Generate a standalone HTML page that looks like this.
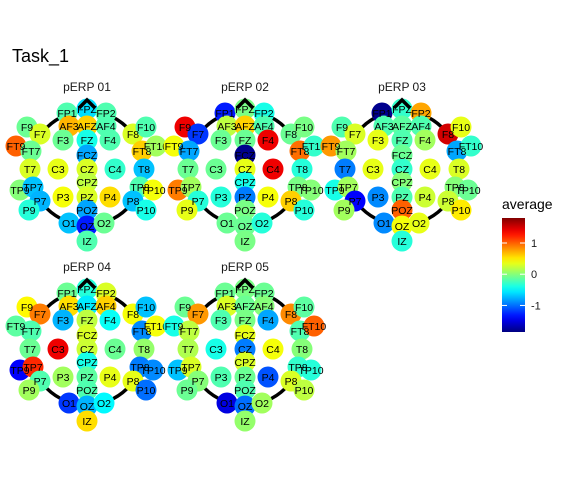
<!DOCTYPE html>
<html><head><meta charset="utf-8"><style>
body{margin:0;background:#fff;}
svg{display:block;font-family:"Liberation Sans",sans-serif;}
</style></head><body>
<svg id="chart" width="576" height="480" viewBox="0 0 576 480">
<rect width="576" height="480" fill="#fff"/>
<text x="12" y="62" font-size="18" fill="#000">Task_1</text>
<g id="panels"></g>
<g id="legend">
<text x="502" y="209" font-size="14" fill="#000">average</text>
<defs><linearGradient id="jetg" x1="0" y1="1" x2="0" y2="0"></linearGradient></defs>
<rect id="lbar" x="502" y="218" width="23" height="114" fill="url(#jetg)"/>
<g id="lticks"></g>
</g>
</svg>
<script>
const electrodes=["FP1","FPZ","FP2","AF3","AFZ","AF4","F9","F7","F3","FZ","F4","F8","F10","FT9","FT7","FCZ","FT8","FT10","T7","C3","CZ","C4","T8","TP9","TP7","CPZ","TP8","TP10","P3","PZ","P4","P7","P8","P9","P10","POZ","O1","OZ","O2","IZ"];
const panelTitles=["pERP 01","pERP 02","pERP 03","pERP 04","pERP 05"];
const p1=[-0.2,-0.6,-0.2,0.7,0.6,-0.2,-0.1,0.3,-0.1,-0.4,-0.2,0.3,-0.2,1.0,-0.1,-0.8,0.6,0.1,0.3,0.35,0.3,-0.3,-0.7,0,-0.7,0.2,-0.2,0.4,0.4,0.3,0.55,-0.75,-0.7,-0.35,-0.4,-0.8,-0.7,-1.3,-0.1,-0.2];
const p2=[-1.3,-0.05,-0.4,0.2,0.6,-0.2,1.4,-1.2,-0.1,-0.1,1.4,-0.1,-0.05,0.4,-0.8,-1.8,0.95,-0.3,-0.1,-0.1,0.35,1.4,-0.35,0.9,0.1,-0.4,-0.05,0,-0.35,-0.95,0.4,-0.35,0.6,0.35,-0.35,-0.05,-0.1,-0.1,-0.35,-0.05];
const p3=[-1.8,-0.3,0.75,-0.2,-0.15,-0.2,-0.2,0.3,0.35,-0.2,0.1,1.5,0.35,0.8,0.1,-0.1,-0.8,-0.3,-0.95,0.35,-0.3,0.35,0.3,-0.4,0.1,0,0,-0.1,-0.9,-0.2,0.25,-1.4,0.25,0.1,0.5,1.0,-0.9,0.4,0.35,-0.35];
const p4=[-0.1,-0.35,0.3,0.55,-0.55,0.6,0.45,0.9,-0.75,0.2,-0.45,0.4,-0.7,-0.15,-0.2,0.3,-0.9,0.4,-0.1,1.4,0.25,-0.1,0.05,-1.4,1.2,-0.4,-0.95,-0.9,0.1,-0.15,0.35,-0.2,0.35,0.1,-1.0,-0.2,-1.2,-0.75,-0.5,0.55];
const p5=[-0.1,-0.05,-0.1,0.3,-0.1,0,-0.1,0.8,-0.2,-0.05,-0.8,0.85,-0.15,-0.4,0.2,0.35,-0.2,1.0,0.15,-0.4,-0.95,0.4,0,-0.7,0.3,0.3,-0.3,-0.35,-0.2,-0.1,-1.1,0,0.3,-0.1,0.2,-0.2,-1.5,-1.0,0.1,0.05];
const panelValues=[p1,p2,p3,p4,p5];
const legendTicks=[1,0,-1];
const vmin=-1.85,vmax=1.8;
// layout (not data)
const pos={FP1:[-20,-56],FPZ:[0,-60],FP2:[19,-56],AF3:[-18,-43],AFZ:[0,-43],AF4:[19,-43],F9:[-60,-42],F7:[-47,-35],F3:[-24,-29],FZ:[0,-29],F4:[23,-29],F8:[46,-35],F10:[59,-42],FT9:[-71,-23],FT7:[-56,-18],FCZ:[0,-14],FT8:[55,-18],FT10:[69,-23],T7:[-57,0],C3:[-29,0],CZ:[0,0],C4:[28,0],T8:[57,0],TP9:[-67,21],TP7:[-54,18],CPZ:[0,13],TP8:[53,18],TP10:[66,21],P3:[-24,28],PZ:[0,28],P4:[23,28],P7:[-47,32],P8:[46,32],P9:[-58,41],P10:[59,41],POZ:[0,41],O1:[-18,54],OZ:[0,57],O2:[17,54],IZ:[0,72]};
const centers=[[87,169],[245,169],[402,169],[87,349],[245,349]];
function jet(t){t=Math.max(0,Math.min(1,t));
 const c=x=>Math.max(0,Math.min(1,x));
 const r=c(1.5-Math.abs(4*t-3)),g=c(1.5-Math.abs(4*t-2)),b=c(1.5-Math.abs(4*t-1));
 return `rgb(${Math.round(r*255)},${Math.round(g*255)},${Math.round(b*255)})`;}
const color=v=>jet((v-vmin)/(vmax-vmin));
const NS="http://www.w3.org/2000/svg";
function mk(tag,attrs,parent){const e=document.createElementNS(NS,tag);for(const k in attrs)e.setAttribute(k,attrs[k]);parent.appendChild(e);return e;}
const G=document.getElementById('panels');
panelValues.forEach((vals,pi)=>{
 const [cx,cy]=centers[pi];
 const g=mk('g',{},G);
 
 
 const t=mk('text',{x:cx,y:cy-78,'font-size':12,'text-anchor':'middle',fill:'#1a1a1a'},g);
 t.textContent=panelTitles[pi];
 
 
 const head=mk('circle',{cx:cx,cy:cy-1,r:57,fill:'none',stroke:'#000','stroke-width':3.5},g);
 
 
 vals.forEach((v,i)=>{const [dx,dy]=pos[electrodes[i]];
  const c=mk('circle',{cx:cx+dx,cy:cy+dy,r:10.5,fill:color(v)},g);
  
  });
 const nose=mk('polyline',{points:`${cx-8},${cy-61} ${cx},${cy-69} ${cx+8},${cy-61}`,fill:'none',stroke:'#000','stroke-width':3.5},g);
 
 
 vals.forEach((v,i)=>{const [dx,dy]=pos[electrodes[i]];
  const l=mk('text',{x:cx+dx,y:cy+dy+4,'font-size':10.5,'text-anchor':'middle',fill:'#000'},g);
  l.textContent=electrodes[i];
  
  });
});
// legend
const grad=document.getElementById('jetg');
for(let i=0;i<=20;i++){mk('stop',{offset:i/20,'stop-color':jet(i/20)},grad);}
const LT=document.getElementById('lticks');
const ly=v=>332-(v-vmin)/(vmax-vmin)*114;
legendTicks.forEach(v=>{const y=ly(v);
 const a=mk('line',{x1:502,x2:507,y1:y,y2:y,stroke:'#fff','stroke-width':1},LT);
 
 
 const b=mk('line',{x1:520,x2:525,y1:y,y2:y,stroke:'#fff','stroke-width':1},LT);
 
 
 const t=mk('text',{x:531,y:y+4,'font-size':11,fill:'#1a1a1a'},LT);
 t.textContent=String(v);
 
 });
</script>
</body></html>
